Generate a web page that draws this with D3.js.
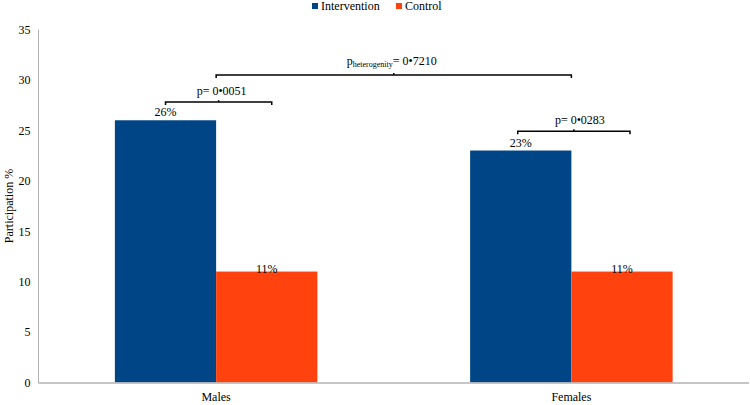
<!DOCTYPE html>
<html>
<head>
<meta charset="utf-8">
<script src="https://cdn.jsdelivr.net/npm/d3@7"></script>
<style>
  body { margin: 0; background: #fff; }
  svg text { font-family: "Times New Roman", "Liberation Serif", "DejaVu Serif", Times, serif; fill: #000; }
</style>
</head>
<body>
<svg id="chart" width="750" height="405"></svg>
<script>
// ---- data ----
const categories = ["Males", "Females"];
const seriesNames = ["Intervention", "Control"];
const intervention = [26, 23];
const control = [11, 11];
const valueLabels = [["26%", "11%"], ["23%", "11%"]];
const yTicks = [0, 5, 10, 15, 20, 25, 30, 35];
const withinP = ["p= 0\u20220051", "p= 0\u20220283"];
const withinLevel = [27.8, 24.9];
const hetP = "= 0\u20227210";
const hetLevel = 30.5;

const colors = ["#004586", "#ff420e"];
const FONT = '"Times New Roman", "Liberation Serif", "DejaVu Serif", Times, serif';

// ---- layout ----
const svg = d3.select("#chart").attr("font-family", FONT);
const mLeft = 38.5, mRight = 749, mTop = 29.5, mBottom = 382.5;

const y = d3.scaleLinear().domain([0, 35]).range([mBottom, mTop]);
const x0 = d3.scaleBand().domain(categories).range([mLeft, mRight]).padding(0);
const bw = x0.bandwidth();
const x1 = d3.scaleBand().domain(seriesNames).range([bw * 0.215, bw * 0.785]).padding(0);

const rows = categories.map((c, i) => ({cat: c, vals: [intervention[i], control[i]], labels: valueLabels[i]}));

// y axis line
svg.append("line").attr("x1", mLeft).attr("x2", mLeft).attr("y1", mTop).attr("y2", mBottom + 0.5)
  .attr("stroke", "#b3b3b3").attr("stroke-width", 1);

// y tick labels
const yAxis = d3.axisLeft(y).tickValues(yTicks).tickSize(0).tickPadding(8);
const gy = svg.append("g").attr("transform", `translate(${mLeft},0)`).call(yAxis);
gy.attr("font-family", FONT).attr("font-size", 12);
gy.select(".domain").remove();
gy.selectAll("text").attr("fill", "#000");

// bars
const groups = svg.selectAll("g.cat").data(rows).join("g")
  .attr("class", "cat").attr("transform", d => `translate(${x0(d.cat)},0)`);
groups.selectAll("rect").data(d => d.vals.map((v, j) => ({v, j}))).join("rect")
  .attr("x", d => x1(seriesNames[d.j]))
  .attr("width", x1.bandwidth())
  .attr("y", d => y(d.v))
  .attr("height", d => y(0) - y(d.v))
  .attr("fill", d => colors[d.j]);

// value labels
groups.selectAll("text.val").data(d => d.vals.map((v, j) => ({v, j, lab: d.labels[j]}))).join("text")
  .attr("class", "val")
  .attr("x", d => x1(seriesNames[d.j]) + x1.bandwidth() / 2)
  .attr("y", d => y(d.v) - (d.j === 0 ? 4 : -1))
  .attr("text-anchor", "middle").attr("font-size", 12)
  .text(d => d.lab);

// x axis line
svg.append("line").attr("x1", mLeft).attr("x2", mRight).attr("y1", mBottom + 0.5).attr("y2", mBottom + 0.5)
  .attr("stroke", "#b3b3b3").attr("stroke-width", 1.5);

// category labels
svg.selectAll("text.catlab").data(categories).join("text")
  .attr("class", "catlab")
  .attr("x", d => x0(d) + bw / 2)
  .attr("y", 401)
  .attr("text-anchor", "middle").attr("font-size", 12)
  .text(d => d);

// y axis title
svg.append("text")
  .attr("transform", `translate(13,${(mTop + mBottom) / 2}) rotate(-90)`)
  .attr("text-anchor", "middle").attr("font-size", 12)
  .text("Participation %");

// brackets
function bracket(xa, xb, yy) {
  const g = svg.append("g").attr("stroke", "#000").attr("fill", "none");
  g.append("path").attr("d", `M${xa},${yy + 3}V${yy}H${xb}V${yy + 3}`).attr("stroke-width", 1.5);
  const xm = (xa + xb) / 2;
  g.append("line").attr("x1", xm).attr("x2", xm).attr("y1", yy).attr("y2", yy - 2).attr("stroke-width", 1.5);
  return xm;
}

rows.forEach((r, i) => {
  const bx = x0(r.cat);
  const xa = bx + x1(seriesNames[0]) + x1.bandwidth() / 2 + (i === 0 ? 0 : -3);
  const xb = bx + x1(seriesNames[1]) + x1.bandwidth() / 2 + (i === 0 ? 5 : 8);
  const yy = y(withinLevel[i]);
  const xm = bracket(xa, xb, yy);
  svg.append("text").attr("x", xm + (i === 0 ? 3 : 6)).attr("y", yy - 7)
    .attr("text-anchor", "middle").attr("font-size", 12).text(withinP[i]);
});

// heterogeneity bracket
{
  const xa = x0(categories[0]) + bw / 2;
  const xb = x0(categories[1]) + bw / 2;
  const yy = y(hetLevel);
  const xm = bracket(xa, xb, yy);
  const t = svg.append("text").attr("x", xm - 2).attr("y", yy - 10)
    .attr("text-anchor", "middle").attr("font-size", 12);
  t.append("tspan").text("p");
  t.append("tspan").attr("font-size", 8).attr("dy", 2).text("heterogenity");
  t.append("tspan").attr("dy", -2).text(hetP);
}

// legend
const legend = svg.append("g").attr("transform", "translate(312,0)");
const legX = [0, 84];
seriesNames.forEach((s, i) => {
  legend.append("rect").attr("x", legX[i]).attr("y", 3).attr("width", 6).attr("height", 6).attr("fill", colors[i]);
  legend.append("text").attr("x", legX[i] + 9).attr("y", 10).attr("font-size", 12).text(s);
});
</script>
</body>
</html>
